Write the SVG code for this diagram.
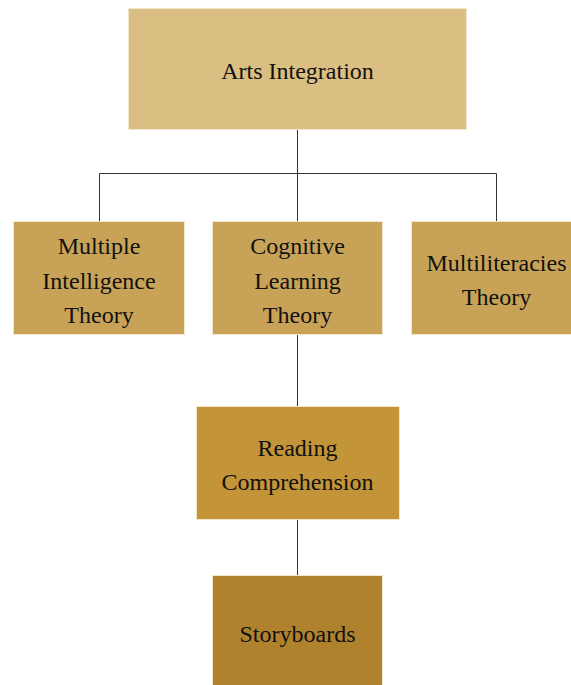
<svg xmlns="http://www.w3.org/2000/svg" width="571" height="685" viewBox="0 0 571 685">
<style>
.box{stroke:#f3e6cc;stroke-width:1}
.t{font-family:'Liberation Serif','Times New Roman',Times,serif;font-size:24px;fill:#111;text-anchor:middle}
.c{stroke:#333;stroke-width:1;fill:none}
</style>
<rect width="571" height="685" fill="#fff"/>
<g id="connectors">
<path class="c" d="M297.5 130V173.5M99.5 173.5H496.5M99.5 173.5V221M297.5 173.5V221M496.5 173.5V221M297.5 335V406M297.5 519V575"/>
</g>
<g id="arts">
<rect class="box" x="128.5" y="8.5" width="338" height="121" fill="#dbbe81"/>
<text class="t" font-family="Liberation Serif, serif" x="297.5" y="79">Arts Integration</text>
</g>
<g id="mit">
<rect class="box" x="13.5" y="221.5" width="171" height="113" fill="#c8a357"/>
<text class="t" font-family="Liberation Serif, serif" x="99" y="254">Multiple</text>
<text class="t" font-family="Liberation Serif, serif" x="99" y="289">Intelligence</text>
<text class="t" font-family="Liberation Serif, serif" x="99" y="323">Theory</text>
</g>
<g id="clt">
<rect class="box" x="212.5" y="221.5" width="170" height="113" fill="#c8a357"/>
<text class="t" font-family="Liberation Serif, serif" x="297.5" y="254">Cognitive</text>
<text class="t" font-family="Liberation Serif, serif" x="297.5" y="289">Learning</text>
<text class="t" font-family="Liberation Serif, serif" x="297.5" y="323">Theory</text>
</g>
<g id="mlt">
<rect class="box" x="411.5" y="221.5" width="170" height="113" fill="#c8a357"/>
<text class="t" font-family="Liberation Serif, serif" x="496.5" y="271">Multiliteracies</text>
<text class="t" font-family="Liberation Serif, serif" x="496.5" y="305">Theory</text>
</g>
<g id="reading">
<rect class="box" x="196.5" y="406.5" width="203" height="113" fill="#c39438"/>
<text class="t" font-family="Liberation Serif, serif" x="297.5" y="456">Reading</text>
<text class="t" font-family="Liberation Serif, serif" x="297.5" y="490">Comprehension</text>
</g>
<g id="storyboards">
<rect class="box" x="212.5" y="575.5" width="170" height="112" fill="#b0822e"/>
<text class="t" font-family="Liberation Serif, serif" x="297.5" y="642">Storyboards</text>
</g>
</svg>
